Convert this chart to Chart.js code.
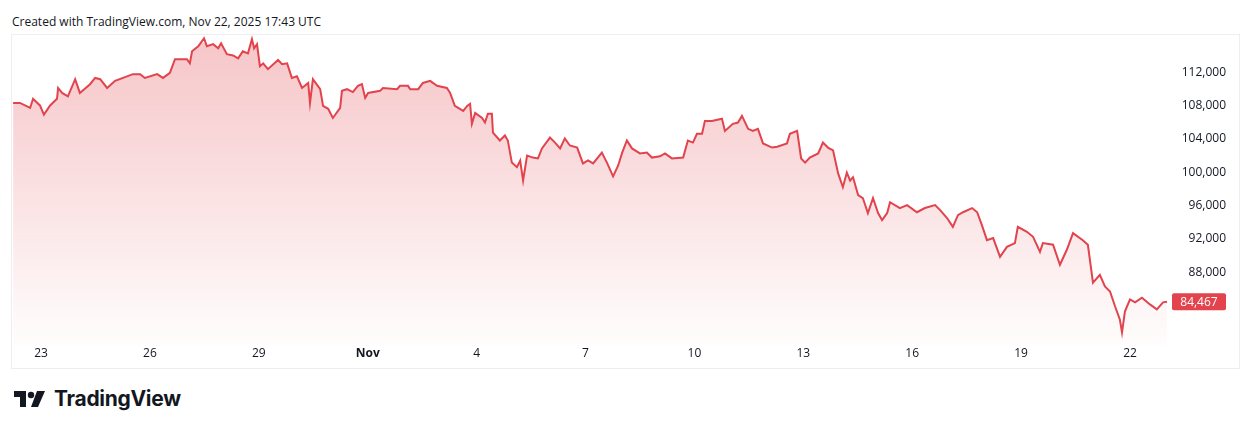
<!DOCTYPE html>
<html><head><meta charset="utf-8">
<script src="https://cdn.jsdelivr.net/npm/chart.js@4/dist/chart.umd.min.js"></script>
<style>
body{margin:0;background:#fff;width:1248px;height:424px;overflow:hidden;font-family:"Liberation Sans",Arial,sans-serif;}
#hdr{position:absolute;left:12px;top:13px;font-size:12px;color:#131722;font-family:"Open Sans","DejaVu Sans",sans-serif;}
#box{position:absolute;left:11px;top:34px;width:1227px;height:333px;border:1px solid #eceef2;}
#wrap{position:absolute;left:12px;top:35px;width:1226px;height:332px;}
#logo{position:absolute;left:14px;top:386px;display:flex;align-items:center;font-family:"Inter","Open Sans",sans-serif;font-weight:700;font-size:21px;color:#131722;letter-spacing:-0.3px;}
</style></head><body>
<div id="hdr">Created with TradingView.com, Nov 22, 2025 17:43 UTC</div>
<div id="box"></div>
<div id="wrap"><canvas id="c"></canvas></div>
<div id="logo"><svg width="34" height="20" viewBox="0 0 34 20" style="margin-right:6px"><path d="M0 2h12v16H6V8H0z" fill="#131722"/><circle cx="17" cy="6" r="3.2" fill="#131722"/><path d="M23 2h8L24 18h-7z" fill="#131722"/></svg>TradingView</div>
<script>
// days since Oct 22 00:00 UTC
const times = [0.23,0.42,0.70,0.78,0.97,1.08,1.25,1.44,1.47,1.58,1.74,1.94,2.07,2.35,2.49,2.63,2.82,3.04,3.53,3.73,3.86,4.20,4.36,4.55,4.69,5.02,5.10,5.16,5.33,5.49,5.57,5.74,5.88,5.96,6.12,6.29,6.43,6.56,6.70,6.81,6.87,6.95,7.03,7.12,7.25,7.53,7.64,7.78,7.91,8.05,8.19,8.36,8.41,8.49,8.69,8.77,8.91,9.04,9.24,9.29,9.43,9.59,9.73,9.84,9.93,10.01,10.34,10.42,10.81,10.89,11.11,11.17,11.39,
11.52,11.72,11.91,12.18,12.27,12.40,12.63,12.74,12.82,12.87,12.96,13.15,13.23,13.31,13.42,13.45,13.64,13.78,13.86,13.97,14.11,14.20,14.28,14.39,14.55,14.69,14.80,15.02,15.16,15.30,15.43,15.57,15.77,15.93,16.07,16.21,16.45,16.59,16.76,16.90,17.01,17.14,17.28,17.50,17.69,17.83,18.05,18.19,18.38,18.69,18.82,18.96,19.07,19.21,19.29,19.48,19.76,19.84,20.06,20.20,20.31,20.48,20.61,20.75,20.89,21.14,21.28,21.55,21.63,21.83,21.94,22.05,22.18,22.41,22.54,22.68,
22.82,22.96,23.09,23.20,23.29,23.37,23.51,23.64,23.78,23.92,24.06,24.17,24.31,24.39,24.66,24.86,25.13,25.35,25.63,25.77,25.96,26.12,26.26,26.40,26.65,26.79,26.92,27.06,27.23,27.42,27.61,27.83,27.91,28.16,28.33,28.52,28.60,28.88,29.07,29.26,29.43,29.70,29.84,29.98,30.17,30.31,30.45,30.59,30.72,30.78,30.86,31.00,31.14,31.33,31.55,31.74,31.91,32.02];
const prices = [108300,108300,107700,108800,108000,106900,108000,108800,110100,109500,109100,111150,109500,110550,111300,111150,110100,110950,111750,111750,111300,111750,111300,111900,113550,113550,113050,114500,115100,116050,115100,115350,114850,115450,114150,114000,113650,114500,114250,115950,114850,115350,112700,113050,112350,113450,112950,113050,111300,111500,110100,110700,108300,111150,109950,107950,107600,106500,107700,109750,109950,109600,110350,110550,108900,109500,109750,110100,109950,110350,110350,109950,109950,
110700,110950,110350,110100,109500,107950,107350,107950,108200,105800,107100,106500,105950,107000,107000,104750,103800,104400,103800,101150,100600,101400,99000,102000,101750,101650,102850,104150,103550,102850,104050,103200,102950,101050,101400,101050,102350,101150,99500,100800,102350,103800,102850,102250,102350,101750,101900,102250,101650,101750,103800,103550,104600,104600,106150,106150,106400,104950,105800,105950,106750,105200,104950,105200,103450,102950,103050,103450,104600,104950,101650,101150,101750,102250,103550,102950,
102600,99850,98200,99950,99000,99400,97250,96900,95100,96900,95100,94250,95100,96400,95700,96050,95200,95700,96050,95450,94500,93450,94850,95200,95700,95200,93650,91850,92100,89850,91050,91500,93450,92850,92250,90450,91500,91300,88900,90700,92700,91850,91300,86750,87700,86300,85700,83900,82350,80800,83300,84750,84400,84950,84150,83550,84400,84467];
const tickDays = [1,4,7,10,13,16,19,22,25,28,31];
const tickLabels = ["23","26","29","Nov","4","7","10","13","16","19","22"];
const priceTicks = [88000,92000,96000,100000,104000,108000,112000];
const lastLabel = "84,467";
const red = "#e2434c";

const lastPlugin = {id:'last',afterDraw(ch){
  const {ctx,scales:{y}}=ch; const py=y.getPixelForValue(prices[prices.length-1]);
  const w=54, h=17;
  ctx.save(); ctx.fillStyle=red; ctx.beginPath(); ctx.roundRect(1160,py-h/2,w,h,2); ctx.fill();
  ctx.fillStyle="#fff"; ctx.font="12px 'Open Sans', sans-serif"; ctx.textAlign="center"; ctx.textBaseline="middle";
  ctx.fillText(lastLabel,1160+w/2,py+1); ctx.restore();
}};
new Chart(document.getElementById('c'),{
  type:'line',
  data:{datasets:[{data:times.map((t,i)=>({x:t,y:prices[i]})),borderColor:red,borderWidth:2,pointRadius:0,tension:0,fill:'start',clip:false,
    backgroundColor(c){const a=c.chart.chartArea; if(!a) return 'rgba(242,54,69,0.2)';
      const g=c.chart.ctx.createLinearGradient(0,a.top,0,a.bottom); g.addColorStop(0,'rgba(226,67,76,0.30)'); g.addColorStop(1,'rgba(226,67,76,0.01)'); return g;}}]},
  options:{responsive:true,maintainAspectRatio:false,animation:false,
    layout:{padding:{right:12,left:0,top:0,bottom:0}},
    plugins:{legend:{display:false},tooltip:{enabled:false}},
    scales:{
      x:{type:'linear',min:0.20,max:32.24,grid:{display:false,drawTicks:false},border:{display:false},
        afterBuildTicks(s){s.ticks=tickDays.map(v=>({value:v}));},
        afterFit(s){s.height=21;},
        ticks:{autoSkip:false,maxRotation:0,padding:0,color:'#131722',
          font(c){return {family:"'Open Sans', sans-serif",size:12,weight:(c.tick&&c.tick.value===10)?'bold':'normal'};},
          callback(v){const i=tickDays.indexOf(v);return i<0?'':tickLabels[i];}}},
      y:{position:'right',min:79164,max:115582,grid:{display:false},border:{display:false},
        afterBuildTicks(s){s.ticks=priceTicks.map(v=>({value:v}));},
        afterFit(s){s.width=51;},
        ticks:{crossAlign:'far',padding:0,color:'#131722',font:{family:"'Open Sans', sans-serif",size:12},
          callback(v){return v.toLocaleString('en-US');}}}
    }},
  plugins:[lastPlugin]
});
</script></body></html>
